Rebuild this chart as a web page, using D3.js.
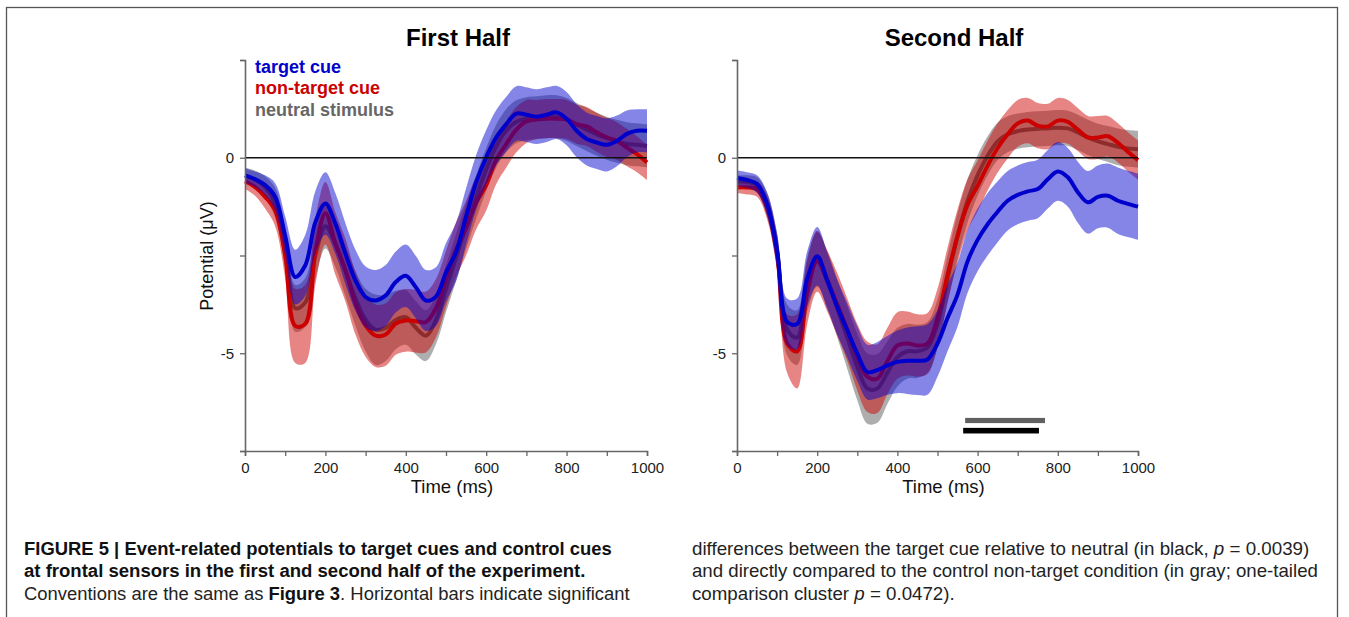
<!DOCTYPE html>
<html>
<head>
<meta charset="utf-8">
<script src="https://cdn.jsdelivr.net/npm/d3@7"></script>
<style>
  html, body { margin: 0; padding: 0; background: #fff; }
  svg { display: block; }
  text { font-family: "Liberation Sans", Arial, Helvetica, sans-serif; }
</style>
</head>
<body>
<svg id="chart" width="1349" height="617"></svg>
<script>
// ---------- DATA ----------
const times = [0,25,50,75,100,125,150,175,200,225,250,275,300,325,350,375,400,425,450,475,500,
               525,550,575,600,625,650,675,700,725,750,775,800,825,850,875,900,925,950,975,1000];

// First half
const firstTarget = [-0.45,-0.55,-0.7,-1.0,-2.0,-3.05,-2.75,-1.65,-1.17,-1.69,-2.46,-3.14,-3.56,-3.65,-3.52,-3.18,-3.02,-3.31,-3.65,-3.55,-2.93,
                     -2.41,-1.5,-0.63,0.01,0.52,0.86,1.13,1.1,1.05,1.1,1.16,1.0,0.69,0.48,0.39,0.33,0.43,0.61,0.69,0.69];
const firstTargetSE = [0.18,0.2,0.25,0.35,0.5,0.7,0.78,0.8,0.8,0.78,0.78,0.78,0.78,0.78,0.78,0.78,0.8,0.8,0.78,0.75,0.75,
                       0.75,0.72,0.7,0.7,0.7,0.7,0.7,0.7,0.7,0.7,0.68,0.68,0.68,0.68,0.68,0.68,0.65,0.6,0.55,0.55];
const firstNonTarget = [-0.6,-0.75,-1.0,-1.35,-2.5,-4.3,-4.25,-2.4,-1.42,-2.2,-2.88,-3.73,-4.29,-4.55,-4.52,-4.24,-4.16,-4.18,-4.2,-3.85,-3.1,
                        -2.35,-1.8,-1.15,-0.7,-0.05,0.35,0.72,0.93,0.98,1.0,1.0,0.98,0.86,0.8,0.65,0.52,0.43,0.26,0.09,-0.12];
const firstNonTargetSE = [0.2,0.22,0.3,0.4,0.6,0.95,1.0,0.85,0.8,0.8,0.8,0.8,0.8,0.8,0.8,0.8,0.8,0.8,0.78,0.75,0.72,
                          0.7,0.7,0.68,0.65,0.62,0.6,0.58,0.55,0.5,0.5,0.5,0.5,0.5,0.5,0.5,0.5,0.48,0.48,0.46,0.45];
const firstNeutral = [-0.45,-0.55,-0.75,-1.15,-2.3,-3.85,-3.7,-2.5,-1.75,-2.2,-2.9,-3.6,-4.15,-4.4,-4.35,-4.15,-4.08,-4.35,-4.55,-4.15,-3.35,
                      -2.55,-1.75,-1.0,-0.3,0.3,0.7,0.92,1.0,1.02,1.05,1.05,0.98,0.85,0.72,0.6,0.5,0.42,0.36,0.33,0.3];
const firstNeutralSE = [0.2,0.22,0.28,0.38,0.5,0.6,0.62,0.6,0.57,0.6,0.65,0.7,0.8,0.9,0.85,0.75,0.7,0.68,0.65,0.62,0.6,
                        0.6,0.58,0.56,0.55,0.55,0.55,0.55,0.55,0.55,0.55,0.55,0.55,0.55,0.55,0.55,0.55,0.55,0.55,0.55,0.55];

// Second half
const secondTarget = [-0.52,-0.57,-0.67,-1.18,-2.37,-4.2,-4.25,-3.1,-2.52,-3.14,-3.82,-4.41,-5.01,-5.48,-5.43,-5.31,-5.22,-5.19,-5.19,-5.16,-4.75,
                      -4.1,-3.5,-2.65,-2.1,-1.7,-1.38,-1.1,-0.95,-0.86,-0.8,-0.55,-0.35,-0.5,-0.88,-1.14,-1.0,-0.97,-1.1,-1.18,-1.25];
const secondTargetSE = [0.2,0.2,0.22,0.3,0.45,0.6,0.65,0.7,0.75,0.72,0.7,0.7,0.7,0.7,0.72,0.75,0.8,0.85,0.88,0.9,0.85,
                        0.85,0.82,0.8,0.8,0.8,0.78,0.76,0.75,0.75,0.75,0.75,0.75,0.75,0.78,0.8,0.8,0.82,0.85,0.85,0.85];
const secondNonTarget = [-0.76,-0.76,-0.8,-1.27,-2.45,-4.75,-4.95,-3.45,-2.65,-3.15,-3.75,-4.4,-5.1,-5.6,-5.65,-5.2,-4.8,-4.75,-4.8,-4.75,-4.1,
                         -3.0,-2.0,-1.2,-0.72,-0.2,0.25,0.6,0.88,0.95,0.82,0.8,0.95,0.92,0.72,0.52,0.52,0.55,0.38,0.15,-0.06];
const secondNonTargetSE = [0.15,0.18,0.2,0.3,0.45,0.75,0.95,0.82,0.78,0.78,0.8,0.8,0.85,0.9,0.88,0.85,0.85,0.82,0.8,0.78,0.75,
                           0.7,0.68,0.66,0.65,0.64,0.63,0.62,0.6,0.58,0.58,0.58,0.58,0.56,0.55,0.55,0.55,0.52,0.5,0.5,0.5];
const secondNeutral = [-0.6,-0.62,-0.7,-1.2,-2.4,-4.4,-4.6,-3.25,-2.6,-3.1,-3.85,-4.6,-5.35,-5.9,-5.9,-5.5,-5.1,-4.95,-4.95,-4.85,-4.25,
                       -3.1,-2.0,-1.1,-0.45,0.05,0.42,0.6,0.68,0.72,0.74,0.75,0.77,0.75,0.65,0.52,0.42,0.35,0.28,0.24,0.22];
const secondNeutralSE = [0.15,0.17,0.2,0.3,0.45,0.65,0.7,0.7,0.7,0.72,0.75,0.8,0.85,0.9,0.88,0.8,0.75,0.7,0.68,0.65,0.62,
                         0.6,0.58,0.55,0.52,0.5,0.48,0.46,0.45,0.45,0.45,0.45,0.45,0.45,0.45,0.45,0.45,0.46,0.47,0.47,0.47];

// Significance clusters (second half), in ms
const sigGray  = [569, 768];
const sigBlack = [564, 753];

const panelTitles = ["First Half", "Second Half"];
const legendLabels = ["target cue", "non-target cue", "neutral stimulus"];
const xTickValues = [0,100,200,300,400,500,600,700,800,900,1000];
const xTickLabels = [0,200,400,600,800,1000];
const yTickValues = [-7.5,-5,-2.5,0,2.5];
const yTickLabels = [-5,0];

// ---------- STYLE ----------
const colTarget = "#0000cc", colNon = "#cc0000", colNeutral = "#555555";
const svg = d3.select("#chart");

// border
svg.append("rect").attr("x",6.5).attr("y",7.5).attr("width",1331).attr("height",700)
   .attr("fill","none").attr("stroke","#555").attr("stroke-width",1.3);

const panels = [
  {x0:245, x1:647, title:panelTitles[0], cx:458,
   series:[[firstNeutral,firstNeutralSE,colNeutral],[firstNonTarget,firstNonTargetSE,colNon],[firstTarget,firstTargetSE,colTarget]],
   legend:true, ylabel:true},
  {x0:737, x1:1138, title:panelTitles[1], cx:954,
   series:[[secondNeutral,secondNeutralSE,colNeutral],[secondNonTarget,secondNonTargetSE,colNon],[secondTarget,secondTargetSE,colTarget]],
   legend:false, ylabel:false, sig:true}
];

const y = d3.scaleLinear().domain([-7.5,2.5]).range([451,60]);
const fmt = v => (v < 0 ? "-" : "") + Math.abs(v);

panels.forEach(p => {
  const x = d3.scaleLinear().domain([0,1000]).range([p.x0,p.x1]);
  const g = svg.append("g");
  const curve = d3.curveCatmullRom.alpha(0.5);

  p.series.forEach(([m, se, col]) => {
    const data = times.map((t,i)=>({t, m:m[i], se:se[i]}));
    g.append("path").datum(data)
      .attr("d", d3.area().x(d=>x(d.t)).y0(d=>y(d.m-d.se)).y1(d=>y(d.m+d.se)).curve(curve))
      .attr("fill", col).attr("fill-opacity", 0.48);
    g.append("path").datum(data)
      .attr("d", d3.line().x(d=>x(d.t)).y(d=>y(d.m)).curve(curve))
      .attr("fill","none").attr("stroke", col).attr("stroke-width", 4).attr("stroke-linejoin","round");
  });

  // zero line
  g.append("line").attr("x1",x(0)).attr("x2",x(1000)).attr("y1",y(0)).attr("y2",y(0))
    .attr("stroke","#111").attr("stroke-width",1.5);

  if (p.sig) {
    g.append("rect").attr("x",x(sigGray[0])).attr("width",x(sigGray[1])-x(sigGray[0]))
      .attr("y",y(-6.72)-2.6).attr("height",5.2).attr("fill","#606060");
    g.append("rect").attr("x",x(sigBlack[0])).attr("width",x(sigBlack[1])-x(sigBlack[0]))
      .attr("y",y(-6.98)-2.8).attr("height",5.6).attr("fill","#000");
  }

  // axes
  const xa = g.append("g").attr("transform",`translate(0,${y(-7.5)})`)
    .call(d3.axisBottom(x).tickValues(xTickValues).tickSize(5).tickPadding(6)
      .tickFormat(v => xTickLabels.includes(v) ? v : ""));
  const ya = g.append("g").attr("transform",`translate(${x(0)},0)`)
    .call(d3.axisLeft(y).tickValues(yTickValues).tickSize(5).tickPadding(6)
      .tickFormat(v => yTickLabels.includes(v) ? fmt(v) : ""));
  [xa, ya].forEach(a => {
    a.select(".domain").attr("stroke","#666").attr("stroke-width",1.6);
    a.selectAll(".tick line").attr("stroke","#666").attr("stroke-width",1.3);
    a.selectAll("text").attr("font-size",15).attr("fill","#222")
      .attr("font-family",'"Liberation Sans", Arial, sans-serif');
  });

  g.append("text").attr("x",(p.x0+p.x1)/2 + 6).attr("y",493).attr("text-anchor","middle")
    .attr("font-size",18.5).attr("fill","#111").text("Time (ms)");

  if (p.ylabel) {
    g.append("text").attr("transform",`translate(213,256) rotate(-90)`).attr("text-anchor","middle")
      .attr("font-size",18).attr("fill","#111").text("Potential (μV)");
  }

  g.append("text").attr("x",p.cx).attr("y",46).attr("text-anchor","middle")
    .attr("font-size",24).attr("font-weight","bold").attr("fill","#000").text(p.title);

  if (p.legend) {
    const lc = [colTarget, colNon, "#666"];
    legendLabels.forEach((l,i) => {
      g.append("text").attr("x",255).attr("y",72.5+i*21.5).attr("font-size",18)
        .attr("font-weight","bold").attr("fill",lc[i]).text(l);
    });
  }
});

// ---------- CAPTION ----------
function captionLine(x, baseline, width, parts) {
  const g = svg.append("g").attr("transform",`translate(${x},${baseline})`);
  const t = g.append("text").attr("x",0).attr("y",0).attr("font-size",17.5).attr("fill","#222");
  parts.forEach(p => {
    const s = t.append("tspan").text(p.t);
    if (p.b) s.attr("font-weight","bold").attr("fill","#111");
    if (p.i) s.attr("font-style","italic");
  });
  const w = t.node().getComputedTextLength();
  t.attr("transform",`scale(${width/w},1)`);
}
captionLine(24, 555, 588, [{t:"FIGURE 5 | Event-related potentials to target cues and control cues", b:true}]);
captionLine(24, 577, 562, [{t:"at frontal sensors in the first and second half of the experiment.", b:true}]);
captionLine(24, 600, 606, [{t:"Conventions are the same as "},{t:"Figure 3", b:true},{t:". Horizontal bars indicate significant"}]);
captionLine(692, 555, 618, [{t:"differences between the target cue relative to neutral (in black, "},{t:"p", i:true},{t:" = 0.0039)"}]);
captionLine(692, 577, 626, [{t:"and directly compared to the control non-target condition (in gray; one-tailed"}]);
captionLine(692, 600, 263, [{t:"comparison cluster "},{t:"p", i:true},{t:" = 0.0472)."}]);
</script>
</body>
</html>
